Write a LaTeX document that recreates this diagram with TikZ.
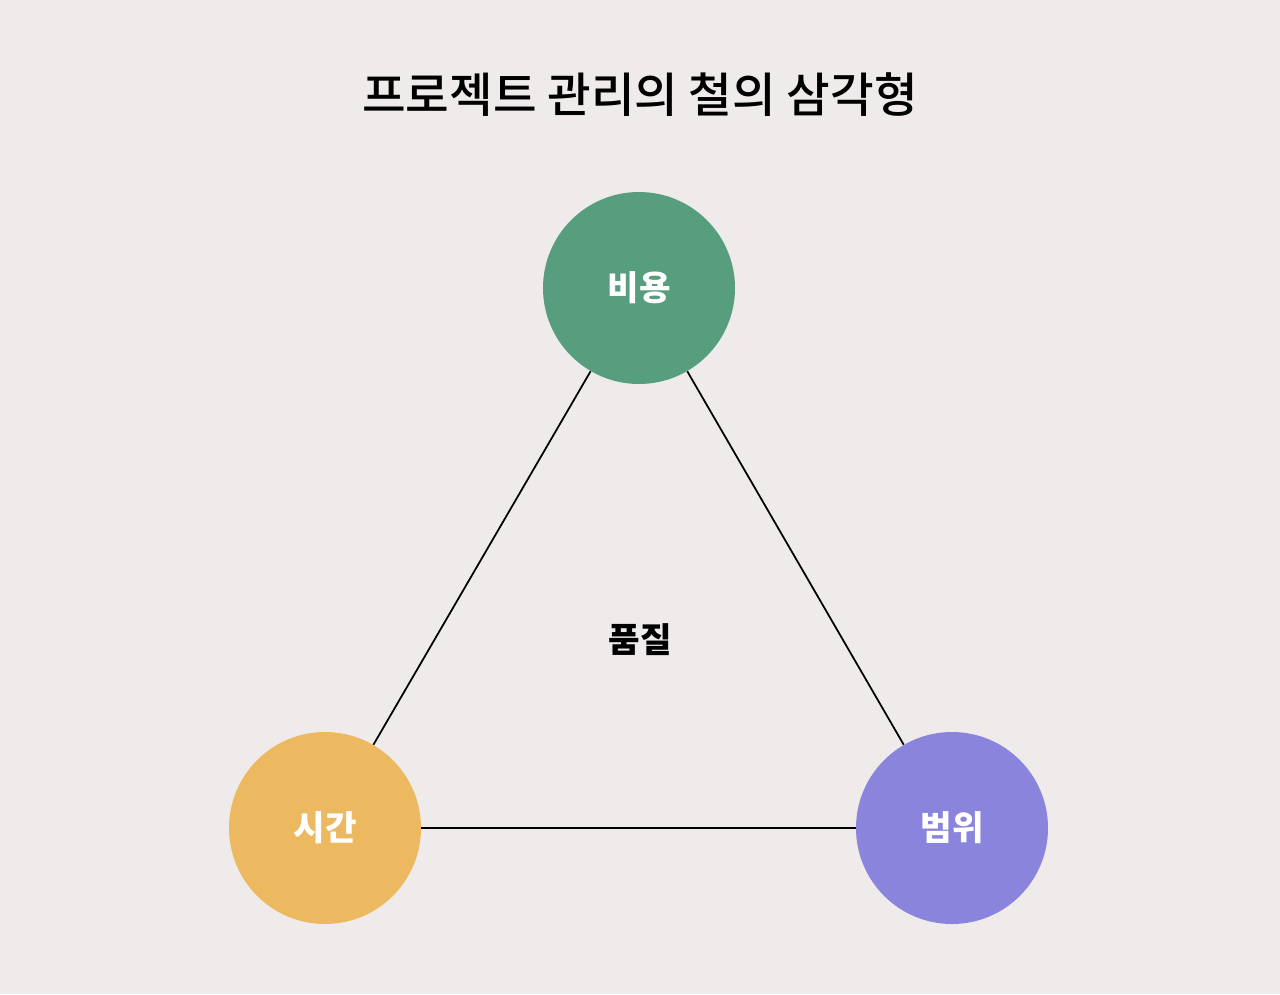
\documentclass[tikz,border=0pt]{standalone}
\usepackage{fontspec}
\newfontfamily\krfont{Noto Sans CJK KR}
\newfontfamily\krmedium{Noto Sans CJK KR Medium}
\usepackage{tikz}
\usetikzlibrary{positioning}
\definecolor{paper}{HTML}{EFEBEB}
\definecolor{costgreen}{HTML}{579E7F}
\definecolor{timegold}{HTML}{EDB960}
\definecolor{scopeviolet}{HTML}{8B84DD}
\tikzset{
    cornernode/.style={circle, draw=none, minimum size=3.84cm, inner sep=0pt, text=white, font=\krfont\bfseries\fontsize{19.5}{22}\selectfont},
    costnode/.style={cornernode, fill=costgreen},
    timenode/.style={cornernode, fill=timegold},
    scopenode/.style={cornernode, fill=scopeviolet},
    edge line/.style={draw=black, line width=1pt}
}

\begin{document}
\begin{tikzpicture}
  \fill[paper] (0,0) rectangle (25.6,-19.88);
  \useasboundingbox (0,0) rectangle (25.6,-19.88);
  \node[font=\krmedium\fontsize{27}{32}\selectfont] (title) at (12.8, -1.9) {프로젝트 관리의 철의 삼각형};
  \node[costnode] (cost) at (12.78, -5.76) {비용};
  \node[timenode] (time) at (6.50, -16.56) {시간};
  \node[scopenode] (scope) at (19.04, -16.56) {범위};
  \node[font=\krfont\bfseries\fontsize{19.5}{22}\selectfont] (quality) at (12.8, -12.8) {품질};
  \draw[edge line] (cost) -- (time);
  \draw[edge line] (cost) -- (scope);
  \draw[edge line] (time) -- (scope);
\end{tikzpicture}
\end{document}
